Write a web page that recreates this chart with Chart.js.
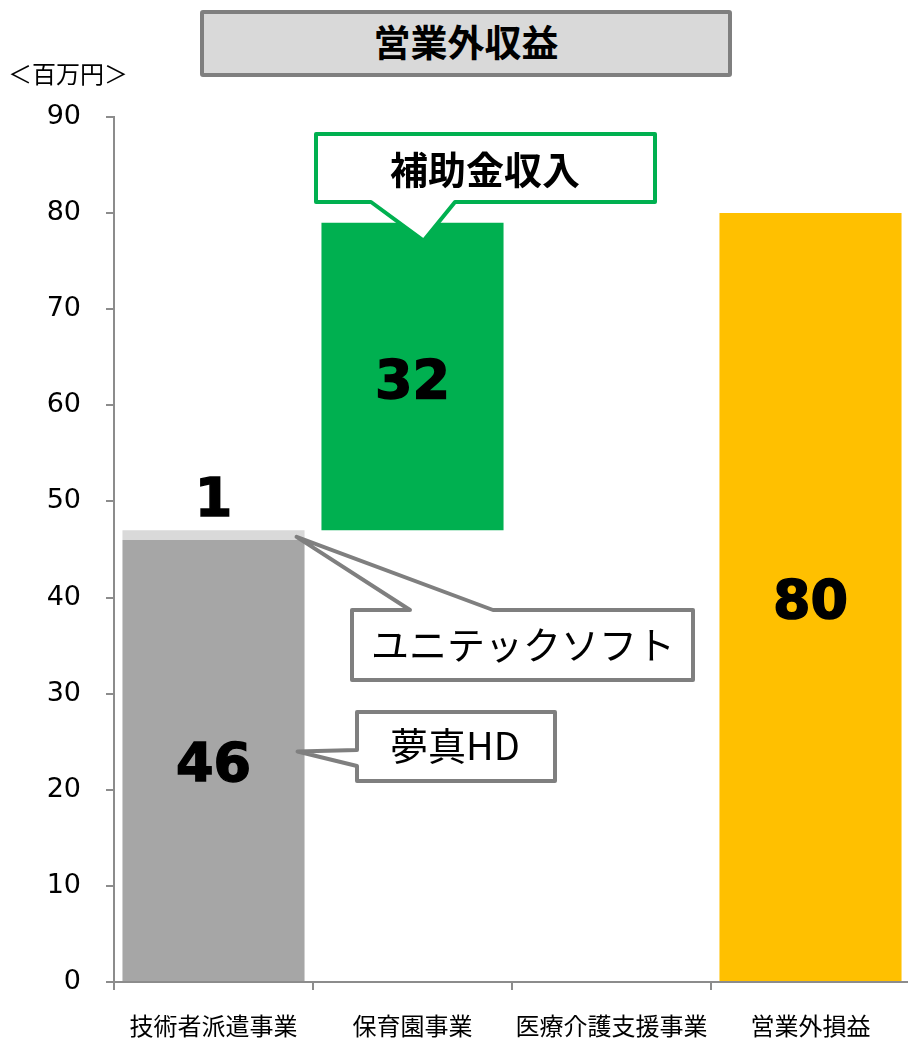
<!DOCTYPE html>
<html lang="ja">
<head>
<meta charset="utf-8">
<title>営業外収益</title>
<script src="https://cdn.jsdelivr.net/npm/chart.js@4/dist/chart.umd.min.js"></script>
<style>
  html, body { margin: 0; padding: 0; background: #fff; overflow: hidden; }
  #wrap { position: relative; width: 908px; height: 1039px; overflow: hidden; }
  #chart { position: absolute; left: 0; top: 0; }
  #title {
    position: absolute; left: 200px; top: 10px; width: 532px; height: 67px;
    box-sizing: border-box; border: 4px solid #7f7f7f; border-radius: 3px;
    background: #d9d9d9; text-align: center; line-height: 56px;
    font: bold 37px "Noto Sans CJK JP", sans-serif; color: #000;
  }
  #unit {
    position: absolute; left: 8px; top: 55px;
    font: 24px "Noto Sans CJK JP", sans-serif; color: #000;
  }
</style>
</head>
<body>
<div id="wrap">
  <canvas id="chart" width="911" height="1039"></canvas>
  <div id="title">営業外収益</div>
  <div id="unit">＜百万円＞</div>
</div>
<script>
// Data (百万円)
const categories = ['技術者派遣事業', '保育園事業', '医療介護支援事業', '営業外損益'];
const yumeshinHD = [46, 0, 0, 0];
const unitecSoft = [1, 0, 0, 0];
const subsidy = [0, 32, 0, 0];
const nonOpTotal = [0, 0, 0, 80];
const yTicks = [0, 10, 20, 30, 40, 50, 60, 70, 80, 90];

// waterfall: each segment starts where the previous one ended
let level = 0;
const hdRanges = [], unitecRanges = [], subsidyRanges = [], totalRanges = [];
categories.forEach((c, i) => {
  hdRanges.push(yumeshinHD[i] ? [level, level += yumeshinHD[i]] : null);
  unitecRanges.push(unitecSoft[i] ? [level, level += unitecSoft[i]] : null);
  subsidyRanges.push(subsidy[i] ? [level, level += subsidy[i]] : null);
  totalRanges.push(nonOpTotal[i] ? [0, nonOpTotal[i]] : null);
});

const labelValues = [yumeshinHD, unitecSoft, subsidy, nonOpTotal];
const labelPlace = ['center', 'above', 'center', 'center'];

const valueLabels = {
  id: 'valueLabels',
  afterDatasetsDraw(chart) {
    const ctx = chart.ctx;
    ctx.save();
    ctx.font = 'bold 54px "DejaVu Sans", sans-serif';
    ctx.fillStyle = '#000';
    ctx.strokeStyle = '#000';
    ctx.lineWidth = 1.5;
    ctx.textAlign = 'center';
    chart.data.datasets.forEach((ds, di) => {
      chart.getDatasetMeta(di).data.forEach((bar, i) => {
        const v = labelValues[di][i];
        if (!v) return;
        let y;
        if (labelPlace[di] === 'above') {
          ctx.textBaseline = 'bottom';
          y = bar.y - 1;
        } else {
          ctx.textBaseline = 'middle';
          y = (bar.y + bar.base) / 2 + 7;
        }
        ctx.fillText(String(v), bar.x, y);
        ctx.strokeText(String(v), bar.x, y);
      });
    });
    ctx.restore();
  }
};

function callout(ctx, pts, stroke, text, tx, ty, font) {
  ctx.beginPath();
  ctx.moveTo(pts[0][0], pts[0][1]);
  pts.slice(1).forEach(p => ctx.lineTo(p[0], p[1]));
  ctx.closePath();
  ctx.fillStyle = '#fff';
  ctx.fill();
  ctx.lineWidth = 4;
  ctx.lineJoin = 'round';
  ctx.strokeStyle = stroke;
  ctx.stroke();
  ctx.fillStyle = '#000';
  ctx.font = font;
  ctx.textAlign = 'center';
  ctx.textBaseline = 'middle';
  ctx.fillText(text, tx, ty);
}

const callouts = {
  id: 'callouts',
  afterDraw(chart) {
    const ctx = chart.ctx;
    const hdBar = chart.getDatasetMeta(0).data[0];
    const unBar = chart.getDatasetMeta(1).data[0];
    const subBar = chart.getDatasetMeta(2).data[1];
    const hdTip = [hdBar.x + hdBar.width / 2 - 7, (hdBar.y + hdBar.base) / 2 - 9];
    const unTip = [unBar.x + unBar.width / 2 - 8, unBar.base - 3];
    const subTip = [subBar.x + 11, subBar.y + 18];
    ctx.save();
    callout(ctx, [[316, 134], [655, 134], [655, 202], [455, 202], subTip, [371, 202], [316, 202]],
      '#00b050', '補助金収入', 485, 170, 'bold 38px "Noto Sans CJK JP", sans-serif');
    callout(ctx, [[352, 610], [410, 610], unTip, [493, 610], [693, 610], [693, 680], [352, 680]],
      '#7f7f7f', 'ユニテックソフト', 523, 645, '38px "Noto Sans CJK JP", sans-serif');
    callout(ctx, [[357, 712], [555, 712], [555, 781], [357, 781], [357, 766], hdTip, [357, 750]],
      '#7f7f7f', '夢真HD', 455, 746, '38px "Noto Sans CJK JP", sans-serif');
    ctx.restore();
  }
};

const common = { grouped: false, barPercentage: 1, categoryPercentage: 0.915, borderWidth: 0 };

new Chart(document.getElementById('chart'), {
  type: 'bar',
  data: {
    labels: categories,
    datasets: [
      { label: '夢真HD', data: hdRanges, backgroundColor: '#a6a6a6', ...common },
      { label: 'ユニテックソフト', data: unitecRanges, backgroundColor: '#d9d9d9', ...common },
      { label: '補助金収入', data: subsidyRanges, backgroundColor: '#00b050', ...common },
      { label: '営業外損益', data: totalRanges, backgroundColor: '#ffc000', ...common }
    ]
  },
  options: {
    responsive: false,
    animation: false,
    layout: { padding: { top: 117, right: 1, left: 0, bottom: 0 } },
    plugins: { legend: { display: false }, tooltip: { enabled: false } },
    scales: {
      x: {
        offset: true,
        grid: { offset: true, drawOnChartArea: false, drawTicks: true, tickLength: 8, color: '#8c8c8c', lineWidth: 2 },
        border: { display: true, color: '#8c8c8c', width: 2 },
        ticks: { color: '#000', padding: 21, font: { family: '"Noto Sans CJK JP", sans-serif', size: 24 } },
        afterFit(s) { s.height = 57; }
      },
      y: {
        min: yTicks[0],
        max: yTicks[yTicks.length - 1],
        afterBuildTicks(s) { s.ticks = yTicks.map(v => ({ value: v })); },
        grid: { drawOnChartArea: false, drawTicks: true, tickLength: 8, color: '#8c8c8c', lineWidth: 2 },
        border: { display: true, color: '#8c8c8c', width: 2 },
        ticks: { color: '#000', padding: 25, font: { family: '"DejaVu Sans", sans-serif', size: 27 } },
        afterFit(s) { s.width = 114; }
      }
    }
  },
  plugins: [valueLabels, callouts]
});
</script>
</body>
</html>
